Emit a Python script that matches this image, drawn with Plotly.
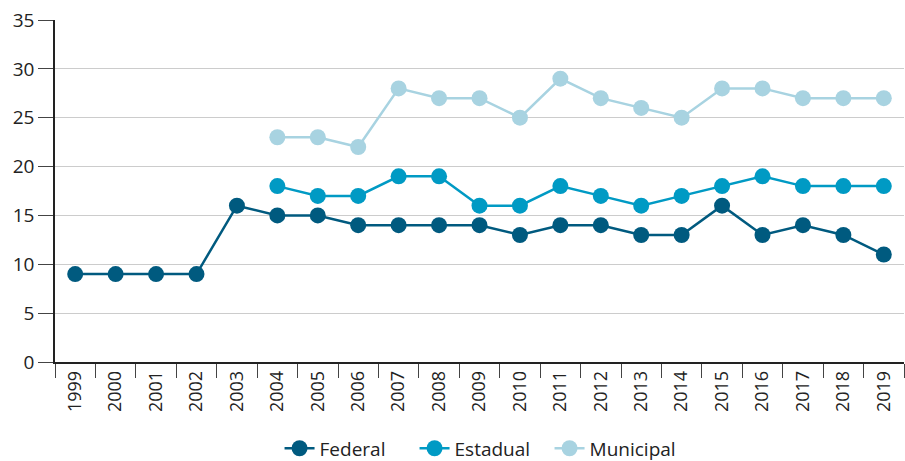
import plotly.graph_objects as go

# anos e séries
anos = [str(a) for a in range(1999, 2020)]
anos_2004 = [str(a) for a in range(2004, 2020)]

federal = [9, 9, 9, 9, 16, 15, 15, 14, 14, 14, 14, 13, 14, 14, 13, 13, 16, 13, 14, 13, 11]
estadual = [18, 17, 17, 19, 19, 16, 16, 18, 17, 16, 17, 18, 19, 18, 18, 18]
municipal = [23, 23, 22, 28, 27, 27, 25, 29, 27, 26, 25, 28, 28, 27, 27, 27]

cores = {"Federal": "#005a7f", "Estadual": "#009ac4", "Municipal": "#a8d3e1"}

fig = go.Figure()
for nome, x, y in [("Federal", anos, federal), ("Estadual", anos_2004, estadual),
                   ("Municipal", anos_2004, municipal)]:
    fig.add_trace(go.Scatter(x=x, y=y, name=nome, mode="lines+markers",
                             line=dict(color=cores[nome], width=2.5),
                             marker=dict(color=cores[nome], size=16)))

fig.update_layout(
    width=905, height=461,
    margin=dict(l=55, r=1, t=20, b=99, autoexpand=False),
    plot_bgcolor="white", paper_bgcolor="white",
    font=dict(family="Open Sans, Noto Sans, sans-serif", color="#222222", size=18),
    legend=dict(orientation="h", x=0.503, xanchor="center", y=-0.197, yanchor="top",
                font=dict(size=19), traceorder="normal", itemwidth=30,
                entrywidth=90),
)
fig.update_xaxes(type="category", categoryorder="array", categoryarray=anos,
                 tickangle=-90, tickson="boundaries", ticks="outside", ticklen=14,
                 tickcolor="#444444", showline=True, linecolor="#222222", linewidth=1.5,
                 showgrid=False, tickfont=dict(size=18), range=[-0.5, 20.5],
                 automargin=False)
fig.update_yaxes(range=[0, 35], dtick=5, ticks="outside", ticklen=15, tickcolor="#444444",
                 showline=True, linecolor="#222222", linewidth=1.5,
                 gridcolor="#cccccc", gridwidth=1, zeroline=False, tickfont=dict(size=19),
                 automargin=False)

fig.write_html("out.html", config={"displayModeBar": False},
               post_script="document.body.style.margin='0';")
